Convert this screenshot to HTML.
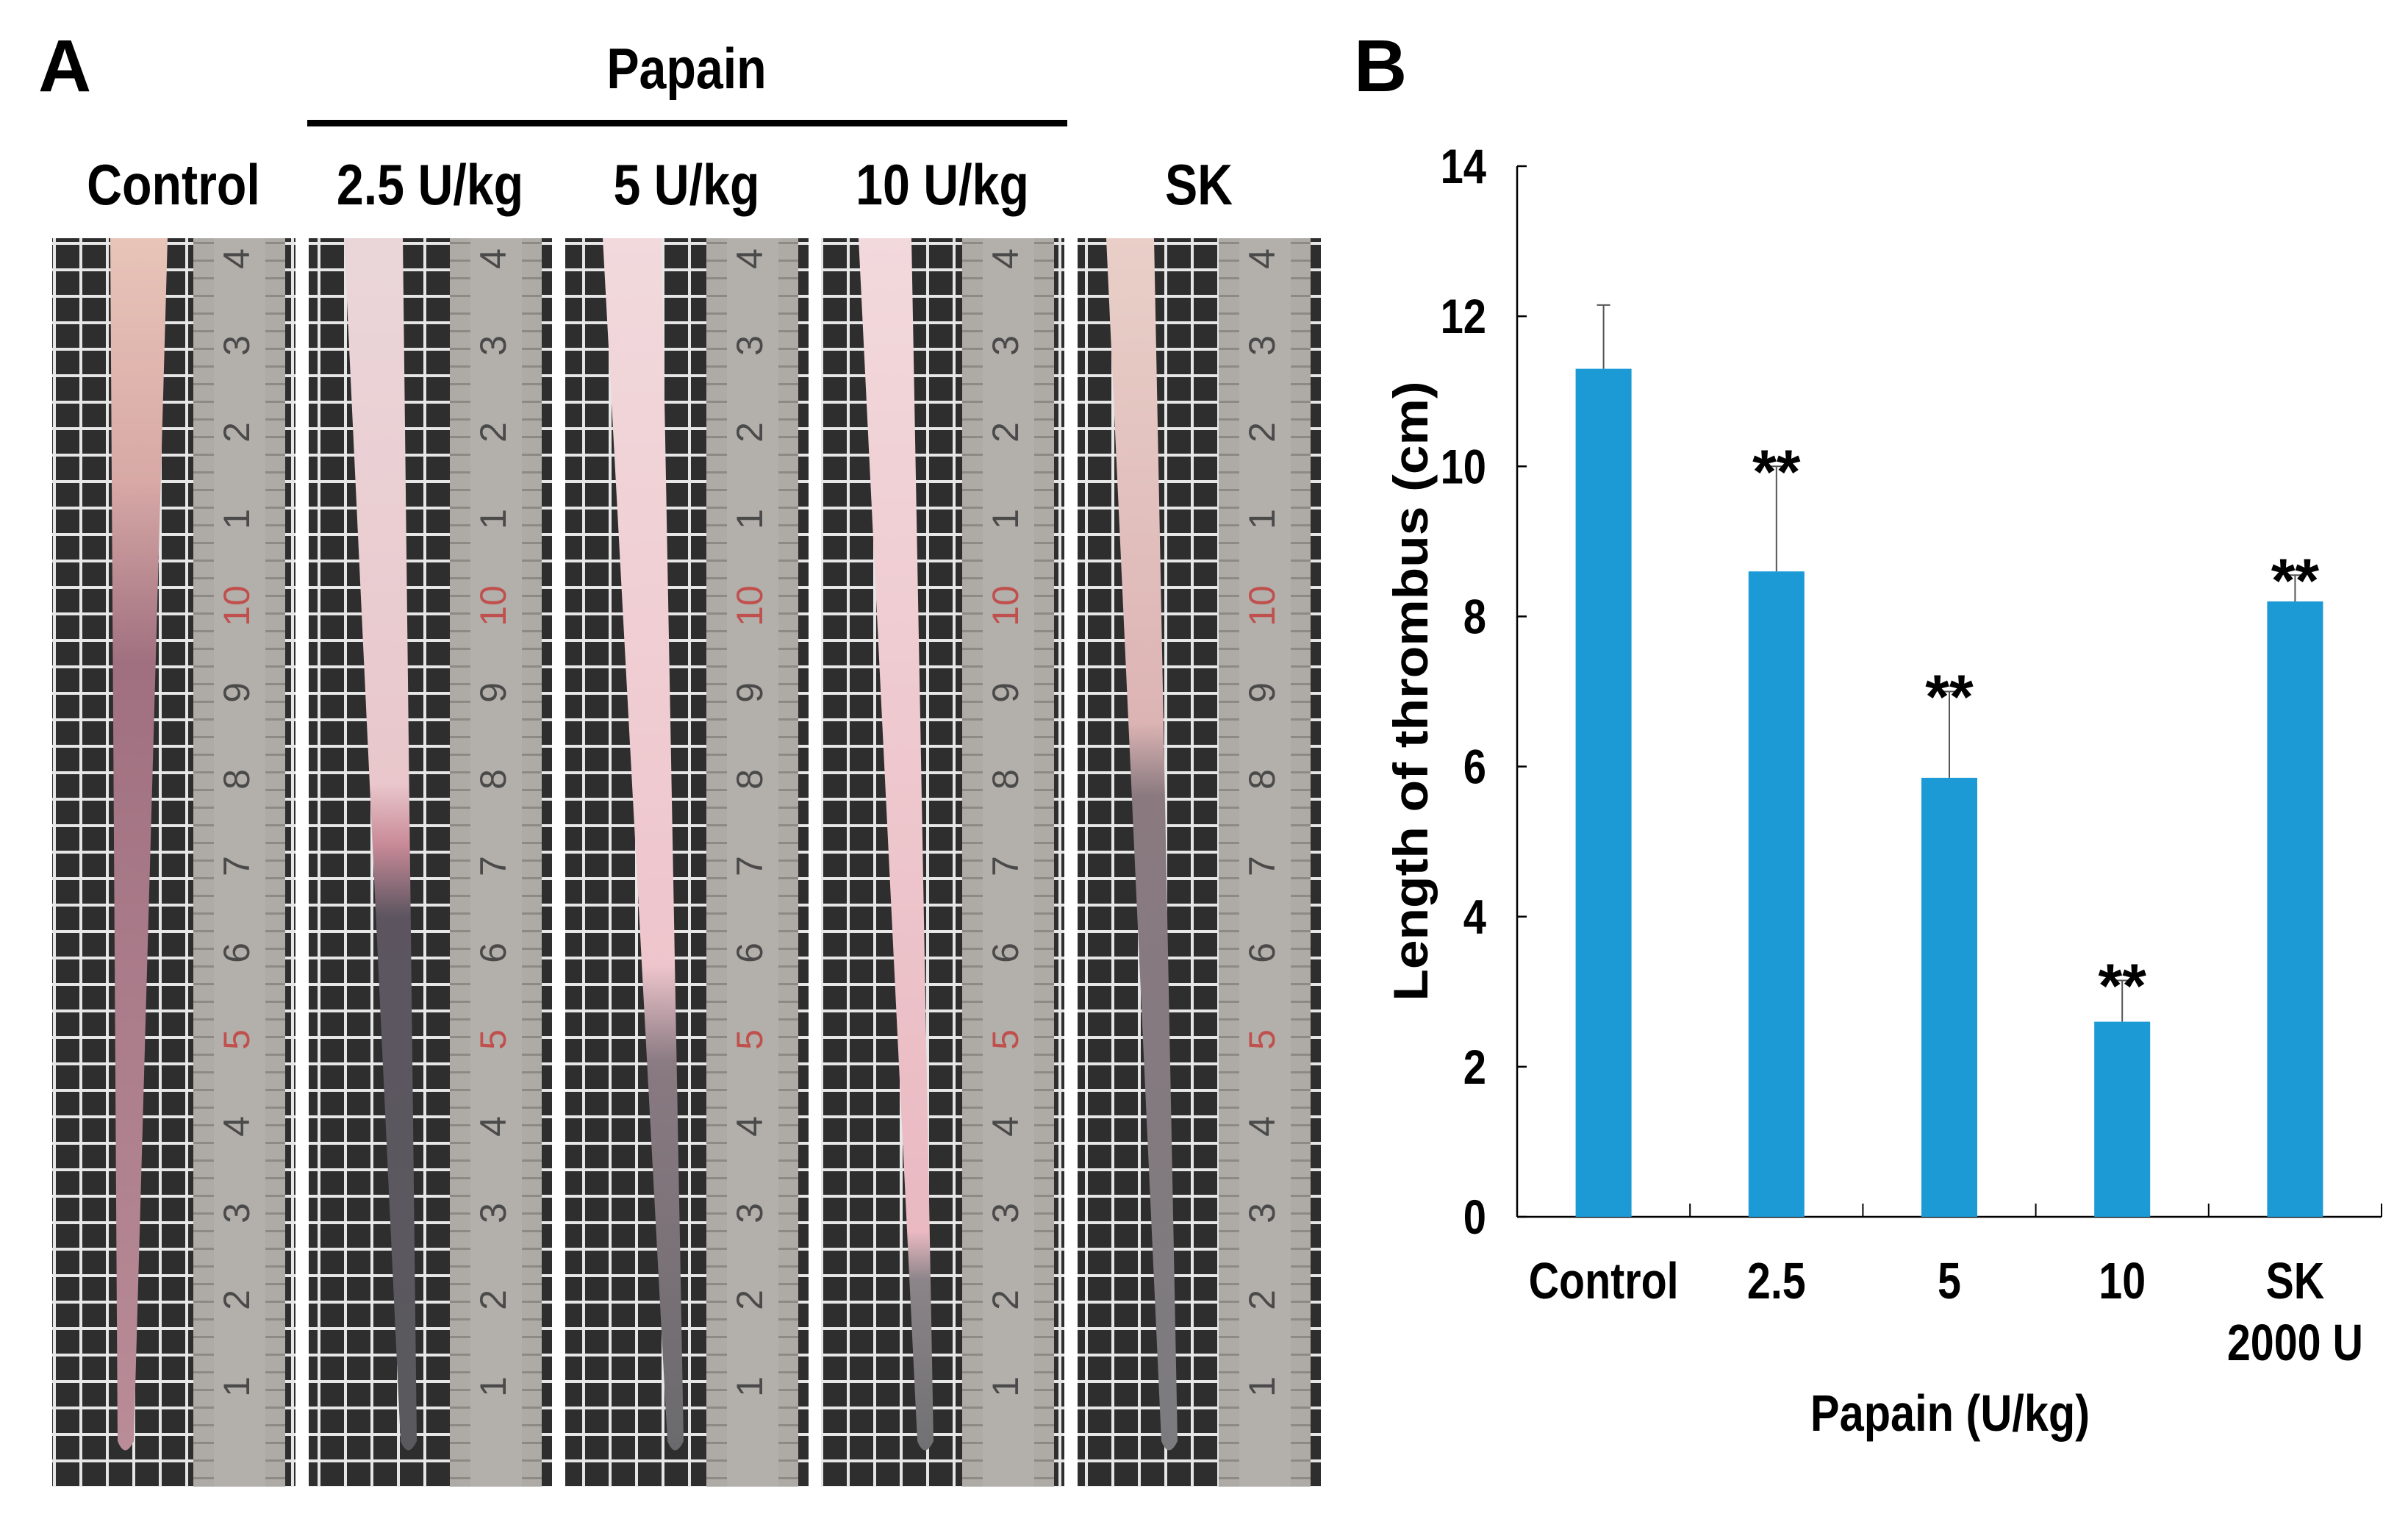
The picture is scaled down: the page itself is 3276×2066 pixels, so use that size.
<!DOCTYPE html>
<html><head><meta charset="utf-8"><style>
html,body{margin:0;padding:0;background:#fff}
body{width:3276px;height:2066px;overflow:hidden;position:relative;font-family:"Liberation Sans",Arial,sans-serif}
svg{position:absolute;left:0;top:0}
text{font-family:"Liberation Sans",Arial,sans-serif;font-weight:bold}
</style></head><body>
<svg id="fig" width="3276" height="2066" viewBox="0 0 3276 2066">
<defs>
<pattern id="grid" x="0" y="329" width="36" height="36" patternUnits="userSpaceOnUse">
<rect width="36" height="36" fill="#2e2e2e"/>
<rect x="0" y="0" width="36" height="4" fill="#e6e6e6"/>
<rect x="0" y="0" width="4" height="36" fill="#e6e6e6"/>
</pattern>
<pattern id="ticks" x="0" y="329" width="20" height="24" patternUnits="userSpaceOnUse">
<rect width="20" height="24" fill="#aeaba6"/>
<rect x="0" y="0" width="20" height="3" fill="#8d8a85"/>
</pattern>
<linearGradient id="tail0" x1="0" y1="0" x2="0" y2="1"><stop offset="0" stop-color="#e8c4b8"/><stop offset="0.2" stop-color="#d8a9a6"/><stop offset="0.35" stop-color="#a07080"/><stop offset="1" stop-color="#b98c98"/></linearGradient>
<linearGradient id="tail1" x1="0" y1="0" x2="0" y2="1"><stop offset="0" stop-color="#ead6d9"/><stop offset="0.45" stop-color="#e9c7cc"/><stop offset="0.5" stop-color="#c98a98"/><stop offset="0.56" stop-color="#5c5560"/><stop offset="1" stop-color="#5a5a5e"/></linearGradient>
<linearGradient id="tail2" x1="0" y1="0" x2="0" y2="1"><stop offset="0" stop-color="#f1d9dc"/><stop offset="0.6" stop-color="#eec5cc"/><stop offset="0.68" stop-color="#8a7a82"/><stop offset="1" stop-color="#6a6a6c"/></linearGradient>
<linearGradient id="tail3" x1="0" y1="0" x2="0" y2="1"><stop offset="0" stop-color="#f2d9dc"/><stop offset="0.82" stop-color="#eab9c2"/><stop offset="0.86" stop-color="#8b8488"/><stop offset="1" stop-color="#707072"/></linearGradient>
<linearGradient id="tail4" x1="0" y1="0" x2="0" y2="1"><stop offset="0" stop-color="#e9cfc8"/><stop offset="0.4" stop-color="#dcb4b4"/><stop offset="0.46" stop-color="#8a7a80"/><stop offset="1" stop-color="#7b7b7e"/></linearGradient>
</defs>
<g id="panelA"></g>
<g id="panelB"></g>
</svg>
<script>
const NS="http://www.w3.org/2000/svg";
function mk(parent,tag,attrs,txt){const e=document.createElementNS(NS,tag);for(const k in attrs)e.setAttribute(k,attrs[k]);if(txt!==undefined)e.textContent=txt;parent.appendChild(e);return e;}

// ---------- Panel A (photos) ----------
const photoLabels=["Control","2.5 U/kg","5 U/kg","10 U/kg","SK"];
const A=document.getElementById('panelA');
let t=mk(A,'text',{x:52,y:124,'font-size':100,'text-anchor':'start'},"A");


t=mk(A,'text',{x:934,y:120,'font-size':78,'text-anchor':'middle',transform:'translate(934,0) scale(0.85,1) translate(-934,0)'},"Papain");


let ln=mk(A,'rect',{x:418,y:163,width:1034,height:9,fill:'#000'});


const panelX=[71,420,769,1117,1466];
const panelW=331;
const tailTop=[[150,228],[468,548],[820,900],[1168,1240],[1505,1570]];
const tailTip=[170,555,918,1258,1590];
for(let i=0;i<5;i++){
  const g=mk(A,'g',{});
  
  
  const px=panelX[i];
  mk(g,'rect',{x:px,y:324,width:panelW,height:1698,fill:'url(#grid)'});
  const rx=px+192, rw=125;
  mk(g,'rect',{x:rx,y:324,width:rw,height:1698,fill:'url(#ticks)'});
  mk(g,'rect',{x:rx+28,y:324,width:70,height:1698,fill:'#b3b0ab'});
  const nums=[4,3,2,1,10,9,8,7,6,5,4,3,2,1];
  for(let k=0;k<nums.length;k++){
    const y=352+k*118;
    mk(g,'text',{x:rx+63,y:y,'font-size':50,fill:(k===4||k===9)?'#c0504d':'#4a4a4a','text-anchor':'middle',transform:`rotate(-90 ${rx+63} ${y})`,'dominant-baseline':'middle',style:'font-weight:normal'},String(nums[k]));
  }
  const [a,b]=tailTop[i];
  mk(g,'path',{d:`M${a},324 L${b},324 L${tailTip[i]+12},1960 Q${tailTip[i]},1985 ${tailTip[i]-10},1960 Z`,fill:`url(#tail${i})`});
  const lb=mk(A,'text',{x:px+165,y:278,'font-size':78,'text-anchor':'middle',transform:`translate(${px+165},0) scale(0.85,1) translate(${-(px+165)},0)`},photoLabels[i]);
  
  
}

// ---------- Panel B (bar chart) ----------
const categories=["Control","2.5","5","10","SK"];
const catSub=["","","","","2000 U"];
const means=[11.3,8.6,5.85,2.6,8.2];
const errs=[0.85,1.4,1.15,0.55,0.35];
const sig=["","**","**","**","**"];
const yTicks=[0,2,4,6,8,10,12,14];

const B=document.getElementById('panelB');
const X0=2064,X1=3240,Y0=1655,Y14=226;
const yMax=14;
const ys=v=>Y0-(v/yMax)*(Y0-Y14);
const bandW=(X1-X0)/categories.length;
const xc=i=>X0+bandW*(i+0.5);
const barW=76;

t=mk(B,'text',{x:1842,y:124,'font-size':100},"B");



let ax=mk(B,'line',{x1:X0,y1:Y14,x2:X0,y2:Y0,stroke:'#000','stroke-width':2.5});


ax=mk(B,'line',{x1:X0,y1:Y0,x2:X1,y2:Y0,stroke:'#000','stroke-width':2.5});



yTicks.forEach(v=>{
  const y=ys(v);
  const tk=mk(B,'line',{x1:X0,y1:y,x2:X0+13,y2:y,stroke:'#000','stroke-width':2.5});
  
  
  const tl=mk(B,'text',{x:2022,y:y+23,'font-size':66,'text-anchor':'end',transform:`translate(2022,0) scale(0.85,1) translate(-2022,0)`},String(v));
  
  
});
for(let i=1;i<=categories.length;i++){
  const x=X0+bandW*i;
  const tk=mk(B,'line',{x1:x,y1:Y0,x2:x,y2:Y0-18,stroke:'#000','stroke-width':2});
  
  
}
categories.forEach((c,i)=>{
  const x=xc(i);
  const yTop=ys(means[i]);
  const ye=ys(means[i]+errs[i]);
  const eb=mk(B,'line',{x1:x,y1:yTop,x2:x,y2:ye,stroke:'#555','stroke-width':2});
  
  
  const cap=mk(B,'line',{x1:x-9,y1:ye,x2:x+9,y2:ye,stroke:'#555','stroke-width':2});
  
  
  const r=mk(B,'rect',{x:x-barW/2,y:yTop,width:barW,height:Y0-yTop,fill:'#1b9ad6'});
  
  
  if(sig[i]){
    const s=mk(B,'text',{x:x,y:ye+36,'font-size':84,'text-anchor':'middle'},sig[i]);
    
    
  }
  const l=mk(B,'text',{x:x,y:1766,'font-size':70,'text-anchor':'middle',transform:`translate(${x},0) scale(0.82,1) translate(${-x},0)`},c);
  
  
  if(catSub[i]){
    const l2=mk(B,'text',{x:x,y:1850,'font-size':70,'text-anchor':'middle',transform:`translate(${x},0) scale(0.82,1) translate(${-x},0)`},catSub[i]);
    
    
  }
});
t=mk(B,'text',{x:0,y:0,'font-size':70,'text-anchor':'middle',transform:'translate(2653,1946) scale(0.85,1)'},"Papain (U/kg)");


t=mk(B,'text',{x:0,y:0,'font-size':66,'text-anchor':'middle',transform:'translate(1942,940) rotate(-90) scale(1.08,1)'},"Length of thrombus (cm)");


</script>
</body></html>
